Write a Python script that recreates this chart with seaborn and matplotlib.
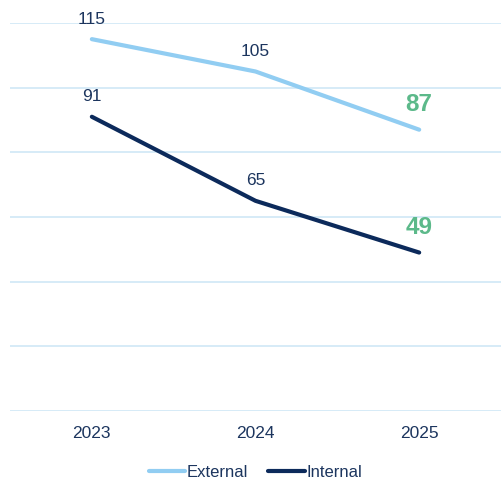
import pandas as pd
import seaborn as sns
import matplotlib.pyplot as plt

# Chart data
years = ["2023", "2024", "2025"]
external = [115, 105, 87]
internal = [91, 65, 49]
series_names = ["External", "Internal"]
y_ticks = [0, 20, 40, 60, 80, 100, 120]

df = pd.DataFrame({
    "Year": years * 2,
    "Value": external + internal,
    "Series": [series_names[0]] * len(years) + [series_names[1]] * len(years),
})

sns.set_style("white")
plt.rcParams["font.family"] = ["Liberation Sans", "DejaVu Sans"]

palette = {"External": "#91cdf2", "Internal": "#0c2a5b"}
text_color = "#1c355e"
highlight = "#5cb98a"

fig = plt.figure(figsize=(5.01, 4.79), dpi=100)
ax = fig.add_axes([0.02, 0.142, 0.98, 0.81])

sns.lineplot(data=df, x="Year", y="Value", hue="Series", palette=palette,
             linewidth=3, sort=False, ax=ax)

ax.set_ylim(0, 120)
ax.set_xlim(-0.5, 2.5)
ax.set_yticks(y_ticks)
ax.set_yticklabels([])
ax.tick_params(axis="y", length=0)
ax.tick_params(axis="x", length=0, labelsize=12.5, labelcolor=text_color, pad=11)
ax.grid(axis="y", color="#cfe8f6", linewidth=1.2)
ax.set_axisbelow(True)
for s in ax.spines.values():
    s.set_visible(False)
ax.set_xlabel("")
ax.set_ylabel("")

# Data labels
for vals in (external, internal):
    for i, v in enumerate(vals):
        if i == len(vals) - 1:
            ax.annotate(str(v), (i, v), xytext=(0, 10), textcoords="offset points",
                        ha="center", va="bottom", fontsize=17.5, fontweight="bold",
                        color=highlight)
        else:
            ax.annotate(str(v), (i, v), xytext=(0, 9), textcoords="offset points",
                        ha="center", va="bottom", fontsize=12.5, color=text_color)

ax.legend(loc="upper center", bbox_to_anchor=(0.5, -0.1), ncol=2, frameon=False,
          fontsize=12, handlelength=2.2, handletextpad=0.1, columnspacing=1.2,
          labelcolor=text_color)

fig.savefig("out.png", dpi=100)
